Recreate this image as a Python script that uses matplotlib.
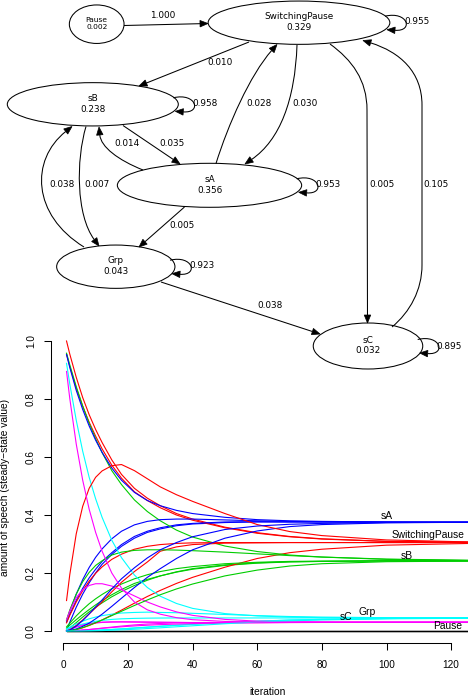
import matplotlib
matplotlib.use("Agg")
import matplotlib.pyplot as plt
import numpy as np
from matplotlib.patches import Ellipse, Polygon, PathPatch
from matplotlib.path import Path

W, H = 468, 700

# ---------------- data: state graph ----------------
node_names = ["Pause", "SwitchingPause", "sB", "sA", "Grp", "sC"]
node_values = [0.002, 0.329, 0.238, 0.356, 0.043, 0.032]
edge_src = ["Pause", "SwitchingPause", "SwitchingPause", "sB", "sA", "SwitchingPause",
            "sB", "sA", "sA", "Grp", "sB", "sA", "Grp", "Grp", "SwitchingPause", "sC", "sC"]
edge_dst = ["SwitchingPause", "SwitchingPause", "sB", "sB", "SwitchingPause", "sA",
            "sA", "sB", "sA", "sB", "Grp", "Grp", "Grp", "sC", "sC", "SwitchingPause", "sC"]
edge_weights = [1.000, 0.955, 0.010, 0.958, 0.028, 0.030, 0.035, 0.014, 0.953,
                0.038, 0.007, 0.005, 0.923, 0.038, 0.005, 0.105, 0.895]

# ---------------- data: iteration curves ----------------
iterations = [1, 2, 4, 6, 8, 10, 12, 15, 18, 22, 26, 30, 35, 40, 50, 60, 70, 80, 100, 126]
state_order = ["Pause", "SwitchingPause", "sB", "sA", "Grp", "sC"]
pause_share = [0.0, 0.0, 0.0, 0.0, 0.0, 0.0, 0.0, 0.0, 0.0, 0.0,
               0.0, 0.0, 0.0, 0.0, 0.0, 0.0, 0.0, 0.0, 0.0, 0.0]

# start in Pause
sp_from_pause = [1.0, .955, .875, .805, .746, .695, .650, .590, .540, .492, .458, .432, .405, .386, .358, .339, .326, .318, .309, .306]
sb_from_pause = [0.0, .010, .029, .048, .066, .082, .097, .118, .136, .157, .175, .190, .204, .215, .228, .235, .239, .240, .242, .242]
sa_from_pause = [0.0, .030, .082, .127, .166, .200, .230, .264, .292, .320, .340, .352, .363, .369, .374, .376, .376, .376, .375, .375]
grp_from_pause = [0.0, 0.0, .0002, .0007, .0013, .0022, .0032, .005, .007, .010, .013, .016, .0195, .023, .0285, .0335, .0375, .040, .043, .045]
sc_from_pause = [0.0, .005, .0135, .0195, .024, .0275, .0295, .031, .0315, .0312, .0307, .0302, .0297, .0292, .029, .029, .0295, .0297, .030, .030]
# start in SwitchingPause
sp_from_sp = [.955, .913, .838, .775, .720, .672, .628, .572, .527, .480, .450, .425, .400, .382, .356, .337, .325, .317, .309, .306]
sb_from_sp = [.010, .020, .039, .057, .074, .090, .105, .125, .143, .164, .178, .190, .203, .213, .226, .234, .238, .240, .242, .242]
sa_from_sp = [.030, .057, .105, .147, .183, .213, .240, .270, .298, .326, .344, .356, .366, .371, .376, .377, .376, .376, .375, .375]
grp_from_sp = [0.0, .0001, .0004, .001, .0017, .0026, .0037, .0055, .0075, .0105, .0135, .0165, .020, .0235, .029, .034, .038, .040, .043, .045]
sc_from_sp = [.005, .0095, .0165, .022, .026, .029, .0305, .0315, .0315, .031, .0305, .030, .0295, .029, .029, .029, .0295, .0297, .030, .030]
# start in sB
sp_from_sb = [0.0, .001, .005, .011, .019, .028, .038, .055, .072, .096, .119, .140, .164, .185, .220, .250, .270, .282, .296, .302]
sb_from_sb = [.958, .918, .843, .776, .716, .663, .615, .553, .505, .452, .412, .380, .348, .324, .293, .274, .262, .255, .247, .243]
sa_from_sb = [.035, .068, .127, .177, .219, .254, .283, .318, .344, .366, .378, .384, .386, .386, .383, .380, .378, .377, .376, .375]
grp_from_sb = [.007, .0135, .025, .034, .042, .048, .053, .058, .062, .064, .065, .064, .063, .061, .057, .053, .050, .048, .046, .045]
sc_from_sb = [0.0, .0003, .0015, .003, .005, .0075, .010, .0135, .017, .021, .024, .026, .028, .029, .030, .030, .030, .030, .030, .030]
# start in sA
sp_from_sa = [.028, .054, .100, .139, .172, .199, .221, .247, .265, .282, .292, .298, .302, .304, .305, .305, .305, .305, .305, .305]
sb_from_sa = [.014, .027, .052, .074, .094, .111, .126, .146, .162, .180, .194, .205, .215, .222, .232, .237, .240, .241, .242, .242]
sa_from_sa = [.953, .909, .830, .764, .707, .658, .616, .562, .520, .478, .450, .432, .416, .405, .392, .384, .380, .378, .376, .375]
grp_from_sa = [.005, .0097, .0177, .024, .0293, .0335, .0367, .040, .042, .0435, .0443, .0447, .045, .045, .045, .045, .045, .045, .045, .045]
sc_from_sa = [0.0, .0003, .0015, .0033, .0052, .0072, .0092, .012, .0145, .0175, .020, .022, .024, .0255, .0275, .0285, .029, .0295, .030, .030]
# start in Grp
sp_from_grp = [0.0, .004, .019, .038, .059, .080, .100, .135, .168, .205, .238, .275, .290, .298, .303, .304, .305, .305, .305, .305]
sb_from_grp = [.038, .072, .127, .170, .202, .226, .242, .262, .272, .278, .280, .280, .279, .277, .272, .266, .260, .255, .248, .244]
sa_from_grp = [0.0, .0013, .007, .016, .027, .042, .058, .085, .113, .150, .185, .215, .250, .280, .320, .345, .360, .367, .373, .375]
grp_from_grp = [.923, .852, .727, .620, .530, .456, .392, .313, .253, .193, .150, .120, .095, .078, .060, .052, .048, .046, .045, .045]
sc_from_grp = [.038, .069, .115, .142, .157, .163, .163, .155, .142, .121, .100, .083, .066, .054, .040, .034, .032, .031, .030, .030]
# start in sC
sp_from_sc = [.105, .194, .335, .430, .492, .530, .552, .570, .574, .553, .525, .497, .470, .447, .405, .367, .343, .329, .314, .307]
sb_from_sc = [0.0, .001, .005, .012, .020, .029, .038, .053, .068, .088, .107, .125, .145, .162, .190, .210, .224, .232, .239, .241]
sa_from_sc = [0.0, .003, .017, .036, .059, .083, .107, .145, .180, .218, .252, .280, .305, .325, .350, .362, .368, .371, .374, .375]
grp_from_sc = [0.0, 0.0, 0.0, .0002, .0005, .001, .0015, .0025, .004, .006, .0085, .011, .0145, .018, .025, .031, .035, .038, .042, .044]
sc_from_sc = [.895, .802, .645, .520, .420, .340, .275, .200, .148, .100, .073, .058, .046, .039, .033, .031, .030, .030, .030, .030]

curve_labels = ["sA", "SwitchingPause", "sB", "Grp", "sC", "Pause"]

# ---------------- figure ----------------
fig = plt.figure(figsize=(W / 100, H / 100), dpi=100)
fig.patch.set_facecolor("white")

R_COLS = ["#000000", "#FF0000", "#00CD00", "#0000FF", "#00FFFF", "#FF00FF"]
PLOT_FONT = ["Liberation Sans", "DejaVu Sans"]

# plot axes in pixel geometry (x=-3.96 at px 50.5 ; y=-0.04 at py 642.6, 1.04 at 329.4)
ax_l, ax_r, ax_t, ax_b = 50.5, 468.0, 329.4, 642.6
ax = fig.add_axes([ax_l / W, 1 - ax_b / H, (ax_r - ax_l) / W, (ax_b - ax_t) / H])
ax.set_xlim(-3.96, 125.2)
ax.set_ylim(-0.04, 1.04)
ax.patch.set_alpha(0)

runs = [
    [pause_share, sp_from_pause, sb_from_pause, sa_from_pause, grp_from_pause, sc_from_pause],
    [pause_share, sp_from_sp, sb_from_sp, sa_from_sp, grp_from_sp, sc_from_sp],
    [pause_share, sp_from_sb, sb_from_sb, sa_from_sb, grp_from_sb, sc_from_sb],
    [pause_share, sp_from_sa, sb_from_sa, sa_from_sa, grp_from_sa, sc_from_sa],
    [pause_share, sp_from_grp, sb_from_grp, sa_from_grp, grp_from_grp, sc_from_grp],
    [pause_share, sp_from_sc, sb_from_sc, sa_from_sc, grp_from_sc, sc_from_sc],
]
for run in runs:
    for col, series in zip(R_COLS, run):
        ax.plot(iterations, series, color=col, lw=0.8, solid_joinstyle="round",
                clip_on=True)

# right-hand labels (text positions)
label_pos = {"sA": (100.2, 0.397), "SwitchingPause": (112.7, 0.331), "sB": (106.3, 0.259),
             "Grp": (93.9, 0.067), "sC": (87.6, 0.049), "Pause": (118.9, 0.018)}
for name in curve_labels:
    x, y = label_pos[name]
    ax.text(x, y, name, ha="center", va="center", fontsize=7.4, family=PLOT_FONT,
            color="black", zorder=10)

for s in ["top", "right"]:
    ax.spines[s].set_visible(False)
ax.spines["left"].set_bounds(0, 1)
ax.spines["bottom"].set_bounds(0, 120)
ax.spines["left"].set_linewidth(0.75)
ax.spines["bottom"].set_linewidth(0.75)
ax.set_yticks([0, 0.2, 0.4, 0.6, 0.8, 1.0])
ax.set_yticklabels(["0.0", "0.2", "0.4", "0.6", "0.8", "1.0"], rotation=90, va="center",
                   family=PLOT_FONT, fontsize=7.2)
ax.set_xticks([0, 20, 40, 60, 80, 100, 120])
ax.set_xticklabels(["0", "20", "40", "60", "80", "100", "120"], family=PLOT_FONT, fontsize=7.2)
ax.tick_params(axis="y", length=5, width=0.75, pad=5.5)
ax.tick_params(axis="x", length=5, width=0.75, pad=7.5)

fig.text(267.7 / W, 1 - 692 / H, "iteration", ha="center", va="center",
         fontsize=7.4, family=PLOT_FONT)
fig.text(5 / W, 1 - 487 / H, "amount of speech (steady\u2212state value)", ha="center",
         va="center", rotation=90, fontsize=7.4, family=PLOT_FONT)

# ---------------- state graph ----------------
gax = fig.add_axes([0, 0, 1, 1], zorder=5)
gax.set_xlim(0, W)
gax.set_ylim(H, 0)
gax.axis("off")

GFONT = ["DejaVu Sans"]
node_geom = {  # centre x, centre y, width, height (pixels)
    "Pause": (96.7, 24.2, 54.7, 38.5),
    "SwitchingPause": (299.0, 22.7, 181.7, 43.3),
    "sB": (92.8, 104.3, 171.0, 43.3),
    "sA": (209.5, 185.3, 184.3, 44.0),
    "Grp": (115.8, 266.7, 118.3, 43.3),
    "sC": (368.0, 346.0, 109.5, 46.0),
}
for name, val in zip(node_names, node_values):
    cx, cy, w, h = node_geom[name]
    gax.add_patch(Ellipse((cx, cy), w, h, fill=False, ec="black", lw=0.75))
    fs = 5.4 if name == "Pause" else 6.4
    gax.text(cx, cy - 0.5, f"{name}\n{val:.3f}", ha="center", va="center", fontsize=fs,
             family=GFONT, linespacing=1.25)

M, L, C = Path.MOVETO, Path.LINETO, Path.CURVE4


def draw_edge(verts, codes, head_len=8.0, head_w=6.5):
    verts = [np.array(v, float) for v in verts]
    tip = verts[-1]
    d = tip - verts[-2]
    d = d / np.hypot(*d)
    base = tip - d * head_len
    verts = verts[:-1] + [base]
    gax.add_patch(PathPatch(Path(verts, codes), fill=False, ec="black", lw=0.75,
                            capstyle="butt"))
    perp = np.array([-d[1], d[0]])
    gax.add_patch(Polygon([tip, base + perp * head_w / 2, base - perp * head_w / 2],
                          closed=True, fc="black", ec="black", lw=0.5))


def loop(xr, cy):
    return ([(xr - 5, cy - 6.5), (xr + 18, cy - 12), (xr + 24, cy + 9), (xr - 3, cy + 7)],
            [M, C, C, C])


edge_geom = [
    ([(124, 25.5), (208, 23.5)], [M, L]),
    loop(390.0, 22.7),
    ([(249, 42), (139, 86)], [M, L]),
    loop(178.3, 104.3),
    ([(216, 163.5), (228, 125), (250, 75), (277, 44.5)], [M, C, C, C]),
    ([(297, 45), (295, 100), (280, 140), (245, 164)], [M, C, C, C]),
    ([(123, 125.5), (180, 164)], [M, L]),
    ([(143, 170), (118, 160), (101, 147), (99, 127)], [M, C, C, C]),
    loop(301.7, 185.3),
    ([(84, 247), (32, 215), (30, 160), (72, 126.5)], [M, C, C, C]),
    ([(86, 126.5), (76, 160), (76, 215), (99, 246)], [M, C, C, C]),
    ([(184.5, 207), (139, 247)], [M, L]),
    loop(175.0, 266.7),
    ([(161, 282), (320, 334)], [M, L]),
    ([(330, 44), (352, 60), (367, 80), (367, 110), (367.5, 323)], [M, C, C, C, L]),
    ([(392, 327), (410, 312), (422, 290), (422, 265), (422, 105), (422, 72), (400, 52),
      (363, 40.5)], [M, C, C, C, L, C, C, C]),
    loop(422.7, 346.0),
]
edge_label_pos = [(162.5, 15), (416.7, 22), (220.5, 62.7), (205.5, 103.3), (259.5, 103.3),
                  (304.8, 103.3), (171.7, 144), (127, 144), (328.3, 184.3), (62, 184.3),
                  (96.7, 184.3), (182.5, 225), (201.7, 266), (270.5, 306), (382, 184.3),
                  (436, 184.3), (448.7, 346.7)]

for (verts, codes), wgt, (lx, ly) in zip(edge_geom, edge_weights, edge_label_pos):
    draw_edge(verts, codes)
    gax.text(lx, ly, f"{wgt:.3f}", ha="center", va="center", fontsize=6.4, family=GFONT)

fig.savefig("out.png", dpi=100, facecolor="white")
